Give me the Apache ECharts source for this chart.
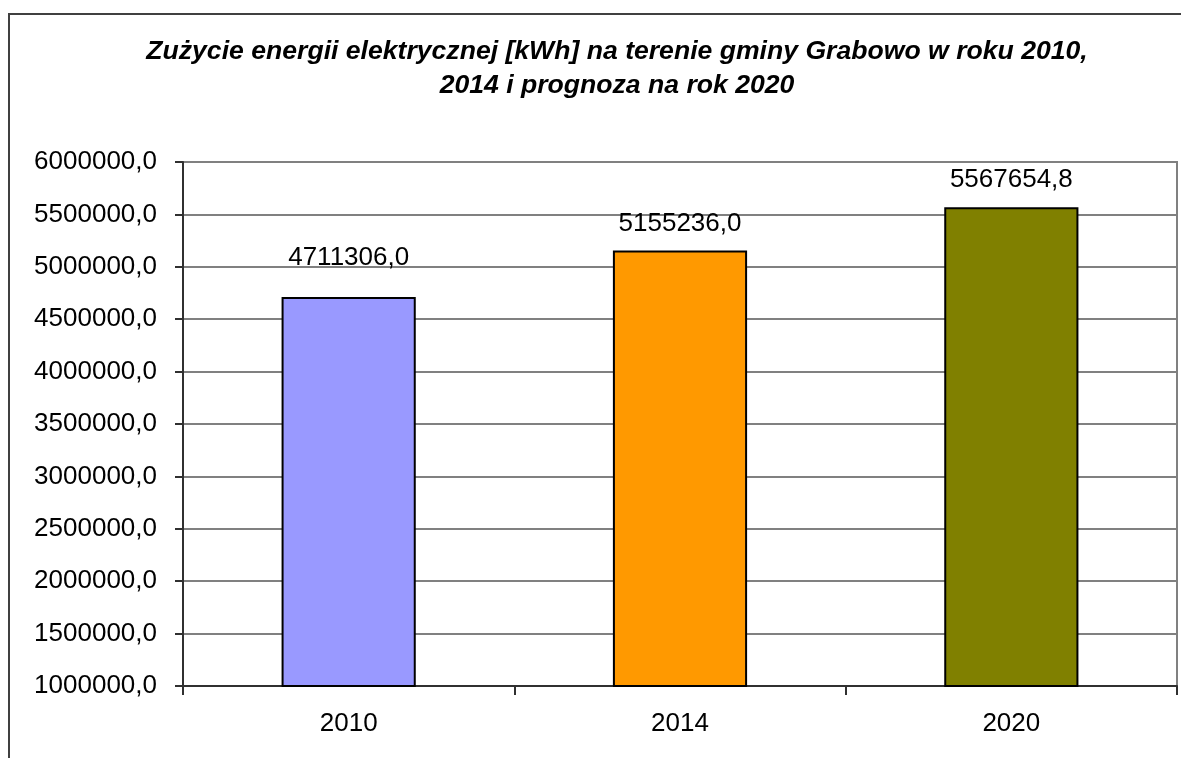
<!DOCTYPE html>
<html>
<head>
<meta charset="utf-8">
<script src="https://cdn.jsdelivr.net/npm/echarts@6/dist/echarts.min.js"></script>
<style>
html,body{margin:0;padding:0;background:#fff;}
#chart{width:1181px;height:758px;}
</style>
</head>
<body>
<div id="chart"></div>
<script>
const titleText = 'Zużycie energii elektrycznej [kWh] na terenie gminy Grabowo w roku 2010,\n2014 i prognoza na rok 2020';
const categories = ['2010', '2014', '2020'];
const values = [4711306.0, 5155236.0, 5567654.8];
const barColors = ['#9999FF', '#FF9900', '#808000'];
const labelDistances = [26, 14, 14];
const yMin = 1000000, yMax = 6000000, yStep = 500000;

function fmt(v) {
  return v.toFixed(1).replace('.', ',');
}

const chart = echarts.init(document.getElementById('chart'), null, {renderer: 'canvas'});
const font = 'Liberation Sans, Arial, sans-serif';

chart.setOption({
  animation: false,
  backgroundColor: '#ffffff',
  textStyle: {fontFamily: font},
  graphic: [{
    type: 'rect',
    shape: {x: 9, y: 14, width: 1400, height: 900},
    style: {fill: 'none', stroke: '#404040', lineWidth: 2},
    silent: true,
    z: -10
  }],
  title: {
    text: titleText,
    left: 617,
    textAlign: 'center',
    top: 35,
    padding: 0,
    textStyle: {
      fontFamily: font,
      fontSize: 26.6,
      fontStyle: 'italic',
      fontWeight: 'bold',
      color: '#000',
      lineHeight: 34
    }
  },
  grid: {
    left: 183, top: 162, right: 4, bottom: 72,
    show: true, borderColor: '#808080', borderWidth: 2, backgroundColor: '#fff'
  },
  xAxis: {
    type: 'category',
    data: categories,
    axisLine: {lineStyle: {color: '#303030', width: 2}},
    axisTick: {show: true, length: 9, inside: false, alignWithLabel: false, lineStyle: {color: '#303030', width: 2}},
    axisLabel: {fontFamily: font, fontSize: 26, color: '#000', margin: 25},
    splitLine: {show: false}
  },
  yAxis: {
    type: 'value',
    min: yMin, max: yMax, interval: yStep,
    axisLine: {show: true, lineStyle: {color: '#303030', width: 2}},
    axisTick: {show: true, length: 8, inside: false, lineStyle: {color: '#303030', width: 2}},
    axisLabel: {fontFamily: font, fontSize: 26, color: '#000', margin: 26, formatter: v => fmt(v)},
    splitLine: {show: true, lineStyle: {color: '#808080', width: 2}}
  },
  series: [{
    type: 'bar',
    barWidth: '40.5%',
    data: values.map((v, i) => ({
      value: v,
      itemStyle: {color: barColors[i], borderColor: '#000', borderWidth: 2},
      label: {distance: labelDistances[i]}
    })),
    label: {
      show: true,
      position: 'top',
      fontFamily: font,
      fontSize: 26,
      color: '#000',
      formatter: p => fmt(p.value)
    }
  }]
});
</script>
</body>
</html>
